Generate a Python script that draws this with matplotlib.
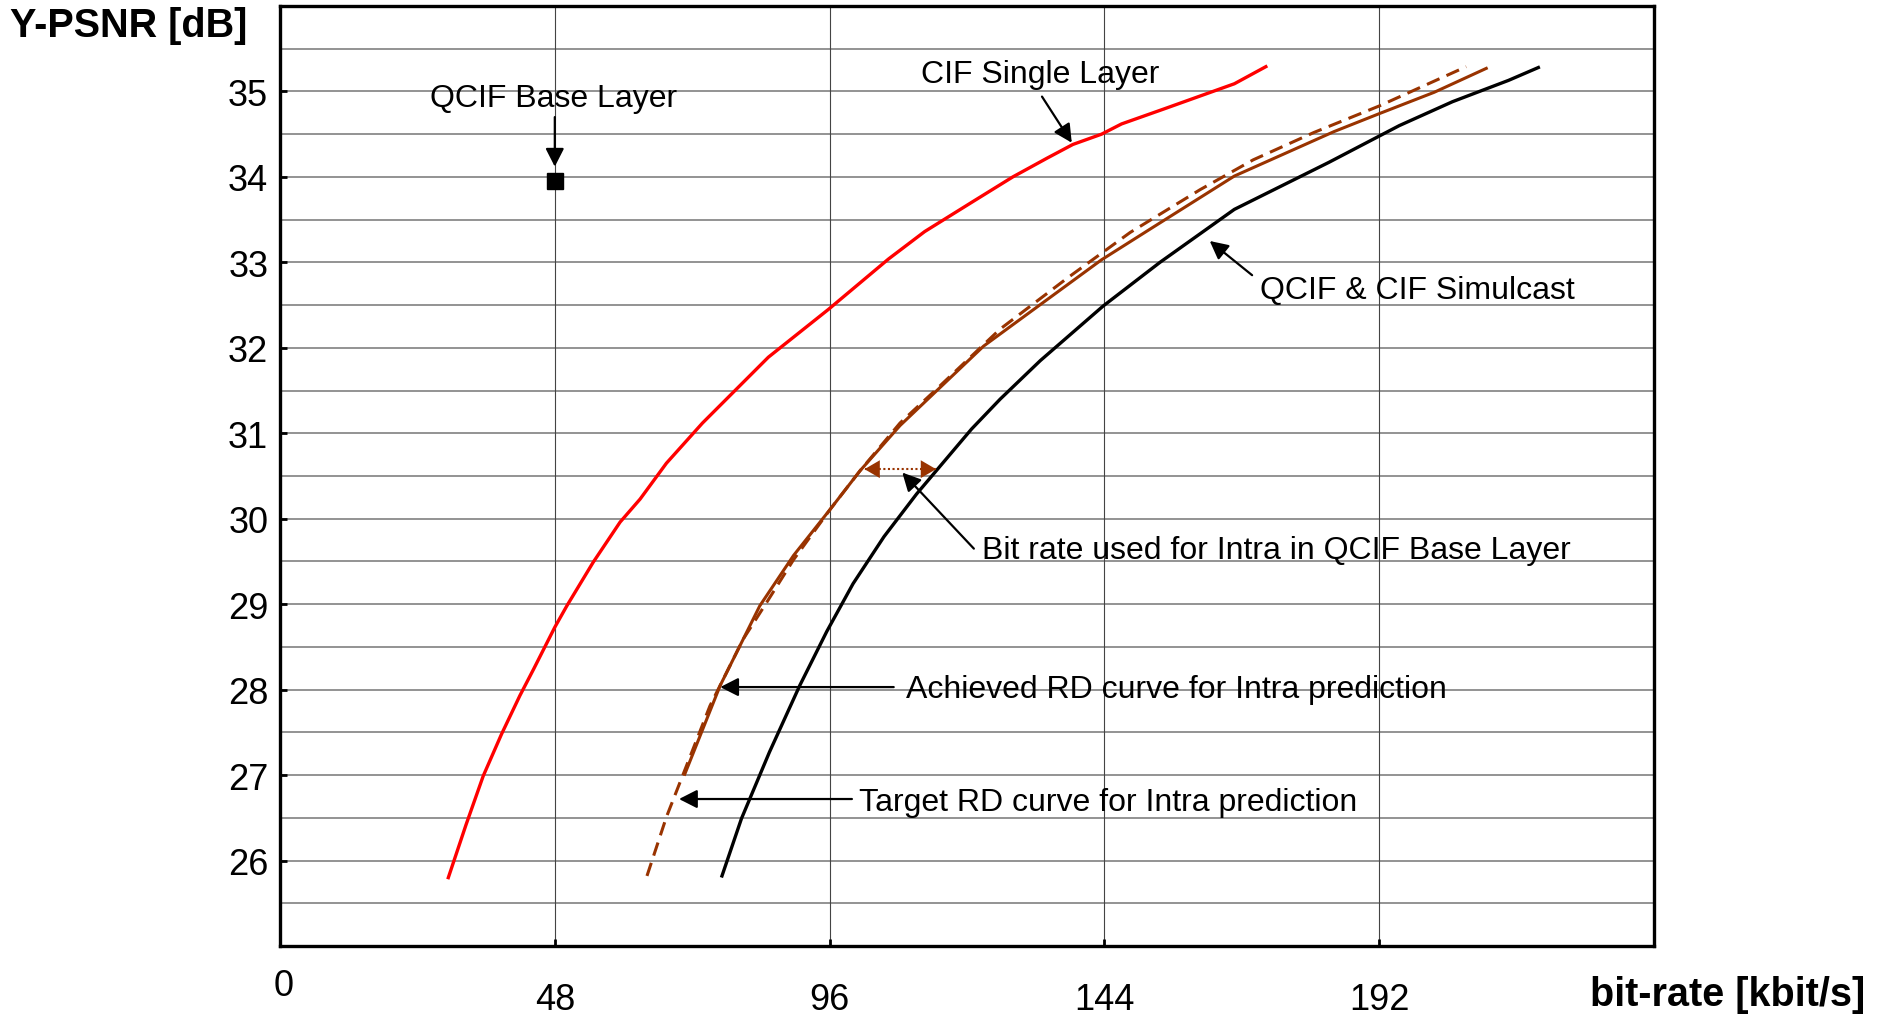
import matplotlib
matplotlib.use("Agg")
import matplotlib.pyplot as plt
import numpy as np

plt.rcParams['font.family'] = ['Liberation Sans', 'DejaVu Sans']

# ---- data ----
cif_single_x = [29.4, 32.5, 35.5, 38.7, 41.9, 44.3, 48.0, 50.1, 54.7, 59.4, 62.9, 67.5, 73.8,
                85.3, 95.8, 106.3, 112.6, 121.0, 128.0, 134.0, 138.5, 143.5, 147.0, 154.6, 166.7, 172.2]
cif_single_y = [25.80, 26.42, 26.99, 27.48, 27.93, 28.24, 28.73, 28.98, 29.49, 29.96, 30.23, 30.65, 31.12,
                31.89, 32.45, 33.04, 33.36, 33.71, 34.00, 34.22, 34.38, 34.50, 34.62, 34.80, 35.09, 35.29]

simulcast_x = [77.2, 80.6, 85.5, 90.8, 95.5, 100.1, 105.5, 111.2, 120.8, 125.8, 132.8, 143.8, 153.7, 166.7,
               183.2, 195.5, 204.8, 214.6, 219.8]
simulcast_y = [25.82, 26.49, 27.27, 28.05, 28.68, 29.24, 29.79, 30.29, 31.05, 31.40, 31.85, 32.49, 33.00, 33.62,
               34.17, 34.60, 34.88, 35.13, 35.28]

achieved_x = [70.7, 76.9, 83.8, 89.7, 96.1, 101.3, 108.3, 122.9, 133.3, 143.5, 152.0, 166.7,
              184.1, 192.0, 201.6, 210.7]
achieved_y = [27.01, 28.05, 28.98, 29.57, 30.11, 30.56, 31.09, 32.02, 32.53, 33.03, 33.39, 34.01,
              34.53, 34.74, 34.99, 35.27]

target_x = [64.1, 67.5, 75.1, 80.9, 85.0, 89.7, 96.1, 101.3, 108.3, 114.1, 125.8, 137.4, 148.5,
            160.7, 170.0, 180.6, 192.0, 207.2]
target_y = [25.82, 26.51, 27.81, 28.59, 29.02, 29.52, 30.11, 30.56, 31.12, 31.48, 32.22, 32.81, 33.35,
            33.85, 34.20, 34.52, 34.83, 35.29]

qcif_base_x = [48]
qcif_base_y = [33.95]

intra_rate_y = 30.58
intra_rate_from = 102.1
intra_rate_to = 114.6

x_ticks = [48, 96, 144, 192]
y_ticks = [26, 27, 28, 29, 30, 31, 32, 33, 34, 35]

RED = '#ff0000'
BROWN = '#993300'

fig = plt.figure(figsize=(18.81, 10.20), dpi=100)
ax = fig.add_axes([280/1881, 1-947/1020, (1654-280)/1881, (947-7)/1020])

ax.set_xlim(0, 240)
ax.set_ylim(25, 36)

# grid
for yv in np.arange(25.5, 36.0, 0.5):
    ax.axhline(yv, color='#8a8a8a', lw=1.3, zorder=0)
for xv in x_ticks:
    ax.axvline(xv, color='#444444', lw=0.8, zorder=0)

# curves
ax.plot(cif_single_x, cif_single_y, color=RED, lw=2.4, zorder=3)
ax.plot(simulcast_x, simulcast_y, color='black', lw=2.4, zorder=3)
ax.plot(achieved_x, achieved_y, color=BROWN, lw=2.2, zorder=3)
ax.plot(target_x, target_y, color=BROWN, lw=2.2, dashes=(4.5, 2.5), zorder=3)
ax.plot(qcif_base_x, qcif_base_y, marker='s', color='black', markersize=12, ls='none', zorder=4)

# double arrow (bit rate used for intra): dotted shaft + solid heads
ax.plot([intra_rate_from, intra_rate_to], [intra_rate_y, intra_rate_y], color=BROWN, lw=1.5,
        ls=(0, (1, 1.2)), zorder=5)
ax.annotate('', xy=(intra_rate_from, intra_rate_y), xytext=(intra_rate_to, intra_rate_y),
            arrowprops=dict(arrowstyle='<|-|>,head_length=0.55,head_width=0.32', mutation_scale=20,
                            facecolor=BROWN, edgecolor=BROWN, lw=0.01, shrinkA=0, shrinkB=0), zorder=5)

# annotation arrows
arrow_kw = dict(arrowstyle='-|>,head_length=0.55,head_width=0.28', mutation_scale=20,
                color='black', lw=1.6, shrinkA=0, shrinkB=0)
arrows = [((48, 34.70), (48, 34.12)),
          ((133.1, 34.94), (138.3, 34.40)),
          ((169.8, 32.85), (162.4, 33.25)),
          ((121.2, 29.65), (108.7, 30.54)),
          ((107.2, 28.03), (76.9, 28.03)),
          ((99.9, 26.72), (69.7, 26.72))]
for tail, tip in arrows:
    ax.annotate('', xy=tip, xytext=tail, arrowprops=arrow_kw, zorder=6)

tfs = 23
ax.text(47.7, 34.83, 'QCIF Base Layer', fontsize=tfs, ha='center', va='baseline')
ax.text(132.8, 35.11, 'CIF Single Layer', fontsize=tfs, ha='center', va='baseline')
ax.text(171.2, 32.58, 'QCIF & CIF Simulcast', fontsize=tfs, ha='left', va='baseline')
ax.text(122.6, 29.54, 'Bit rate used for Intra in QCIF Base Layer', fontsize=tfs, ha='left', va='baseline')
ax.text(109.3, 27.91, 'Achieved RD curve for Intra prediction', fontsize=tfs, ha='left', va='baseline')
ax.text(101.1, 26.59, 'Target RD curve for Intra prediction', fontsize=tfs, ha='left', va='baseline')

# ticks
ax.set_xticks(x_ticks)
ax.set_xticklabels([str(v) for v in x_ticks])
ax.set_yticks(y_ticks)
ax.set_yticklabels([str(v) for v in y_ticks])
ax.tick_params(axis='both', direction='in', length=5, width=2, labelsize=26, colors='black')
ax.tick_params(axis='x', pad=26)
ax.tick_params(axis='y', pad=8.5)
ax.annotate('0', xy=(0, 0), xycoords=('data', 'axes fraction'), xytext=(4, -22),
            textcoords='offset pixels', ha='center', va='top', fontsize=26)

for s in ax.spines.values():
    s.set_linewidth(2.4)
    s.set_color('black')

fig.text(10/1881, 1-37/1020, 'Y-PSNR [dB]', fontsize=28.5, fontweight='bold', ha='left', va='baseline')
fig.text(1590/1881, 1-1006/1020, 'bit-rate [kbit/s]', fontsize=28.5, fontweight='bold', ha='left', va='baseline')

fig.savefig('out.png', dpi=100)
